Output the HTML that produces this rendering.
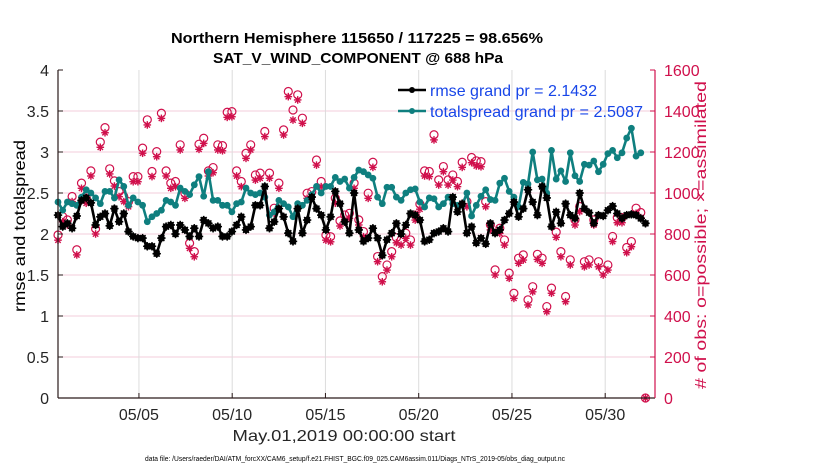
<!DOCTYPE html>
<html><head><meta charset="utf-8"><style>
body{margin:0;background:#fff;}
svg{display:block;font-family:"Liberation Sans",sans-serif;}
</style></head><body>
<svg id="chart" width="830" height="470" viewBox="0 0 830 470">
<text x="357" y="43" text-anchor="middle" font-size="15" font-weight="bold" textLength="372" lengthAdjust="spacingAndGlyphs">Northern Hemisphere 115650 / 117225 = 98.656%</text>
<text x="358" y="63" text-anchor="middle" font-size="15" font-weight="bold" textLength="290" lengthAdjust="spacingAndGlyphs">SAT_V_WIND_COMPONENT @ 688 hPa</text>
<g id="grid"></g>
<g id="obs"></g>
<g id="series"></g>
<g id="axes"></g>
<text x="0" y="0" transform="translate(25,226) rotate(-90)" text-anchor="middle" font-size="16" textLength="172" lengthAdjust="spacingAndGlyphs">rmse and totalspread</text>
<text x="0" y="0" transform="translate(706,235) rotate(-90)" text-anchor="middle" font-size="16" fill="#d0104c" textLength="308" lengthAdjust="spacingAndGlyphs"># of obs: o=possible; ×=assimilated</text>
<text x="344" y="441" text-anchor="middle" font-size="16" fill="#262626" textLength="223" lengthAdjust="spacingAndGlyphs">May.01,2019 00:00:00 start</text>
<text x="355" y="461" text-anchor="middle" font-size="7.5" fill="#000" textLength="420" lengthAdjust="spacingAndGlyphs">data file: /Users/raeder/DAI/ATM_forcXX/CAM6_setup/f.e21.FHIST_BGC.f09_025.CAM6assim.011/Diags_NTrS_2019-05/obs_diag_output.nc</text>
<g>
<line x1="398" y1="90" x2="426" y2="90" stroke="#000" stroke-width="2.5"/>
<circle cx="412" cy="90" r="3" fill="#000"/>
<text x="430" y="96" font-size="16" fill="#1846e8" textLength="167" lengthAdjust="spacingAndGlyphs">rmse grand pr = 2.1432</text>
<line x1="398" y1="111" x2="426" y2="111" stroke="#0f7f7f" stroke-width="2.5"/>
<circle cx="412" cy="111" r="3" fill="#0f7f7f"/>
<text x="430" y="117" font-size="16" fill="#1846e8" textLength="213" lengthAdjust="spacingAndGlyphs">totalspread grand pr = 2.5087</text>
</g>
</svg>
<script>
const xTickLabels=["05/05","05/10","05/15","05/20","05/25","05/30"];
const xTickDays=[4,9,14,19,24,29];
const yLeftTicks=[0,0.5,1,1.5,2,2.5,3,3.5,4];
const yLeftLabels=["0","0.5","1","1.5","2","2.5","3","3.5","4"];
const yRightTicks=[0,200,400,600,800,1000,1200,1400,1600];
const rmse=[2.23,2.09,2.13,2.07,2.22,2.41,2.44,2.38,2.11,2.21,2.25,2.1,2.31,2.15,2.25,2.03,1.97,1.95,1.95,1.85,1.85,1.76,1.95,2.09,2.11,2.0,2.11,2.05,1.97,2.07,1.97,2.17,2.13,2.07,2.09,1.97,1.97,2.03,2.11,2.21,2.05,2.09,2.35,
2.35,2.58,2.07,2.15,2.31,2.21,2.01,1.91,2.31,2.01,2.17,2.45,2.31,2.23,2.05,2.21,2.52,2.37,2.15,2.01,2.5,2.05,1.91,1.95,2.07,1.95,1.74,1.93,2.01,2.13,2.0,2.11,2.25,2.23,2.17,1.91,1.93,2.01,2.03,2.07,2.03,2.45,
2.27,2.37,2.01,2.09,1.89,1.95,1.88,2.13,2.01,2.05,2.17,2.25,2.39,2.21,2.31,2.54,2.39,2.23,2.58,2.44,2.09,2.27,2.13,2.37,2.23,2.19,2.5,2.31,2.26,2.13,2.23,2.22,2.29,2.34,2.25,2.19,2.23,2.24,2.23,2.19,2.13];
const totalspread=[2.39,2.29,2.39,2.37,2.35,2.45,2.54,2.5,2.44,2.37,2.52,2.52,2.44,2.66,2.58,2.35,2.44,2.39,2.35,2.15,2.21,2.25,2.29,2.41,2.39,2.35,2.56,2.52,2.48,2.6,2.7,2.46,2.76,2.41,2.41,2.35,2.35,2.27,2.37,2.39,2.56,2.5,2.48,
2.5,2.45,2.23,2.27,2.41,2.37,2.33,2.21,2.37,2.35,2.41,2.48,2.58,2.5,2.58,2.58,2.69,2.64,2.67,2.56,2.69,2.78,2.76,2.72,2.68,2.45,2.37,2.57,2.57,2.45,2.41,2.5,2.54,2.55,2.39,2.33,2.44,2.43,2.33,2.37,2.45,
2.37,2.35,2.35,2.5,2.22,2.35,2.46,2.54,2.42,2.41,2.62,2.68,2.52,2.45,2.33,2.63,2.61,3.0,2.66,2.67,2.5,3.02,2.67,2.77,2.64,2.99,2.71,2.64,2.85,2.84,2.89,2.76,2.85,2.98,3.02,2.93,2.99,3.17,3.29,2.95,2.99];
const obsAssimilated=[770,860,844,958,698,1023,950,1083,800,1223,1294,1093,1034,982,958,933,1055,1055,1194,1332,1080,1177,1364,1083,1023,1031,1210,974,730,689,1213,1242,1083,1099,1210,1206,1369,1372,1083,1031,1169,1210,1063,
1072,1275,1072,901,1023,1283,1470,1356,1454,1340,974,982,1136,1031,770,762,950,839,868,876,1023,844,787,974,1125,665,567,624,689,757,746,779,746,868,921,1083,1080,1259,1039,1104,
1039,1063,1031,1125,933,1148,1132,1128,933,820,600,803,746,584,486,657,673,454,518,676,657,421,511,784,689,470,649,844,909,640,649,844,640,600,624,763,855,855,709,738,901,880,0];
const obsPossible=[795,885,869,983,723,1048,975,1108,825,1248,1319,1118,1059,1007,983,958,1080,1080,1219,1357,1105,1202,1389,1108,1048,1056,1235,999,755,714,1238,1267,1108,1124,1235,1231,1394,1397,1108,1056,1194,1235,1088,
1097,1300,1097,926,1048,1308,1495,1405,1479,1365,999,1007,1161,1056,795,787,975,864,893,901,1048,869,812,999,1150,690,592,649,714,782,771,804,771,893,946,1108,1105,1284,1064,1129,
1064,1088,1056,1150,958,1173,1157,1153,958,845,625,828,771,609,511,682,698,479,543,701,682,446,536,809,714,495,674,869,934,665,674,869,665,625,649,788,880,880,734,763,926,905,0];

const NS="http://www.w3.org/2000/svg";
const X0=58,X1=655,YT=70,YB=398;
const dayStart=-0.34,dayEnd=31.67,stepDays=0.252;
function xScale(d){return X0+(d-dayStart)/(dayEnd-dayStart)*(X1-X0);}
function yLeft(v){return YB-v/4*(YB-YT);}
function yRight(v){return YB-v/1600*(YB-YT);}
function dayOf(i){return dayStart+i*stepDays;}
function mk(tag,attrs,parent){const e=document.createElementNS(NS,tag);for(const k in attrs)e.setAttribute(k,attrs[k]);parent.appendChild(e);return e;}
const grid=document.getElementById('grid'),axes=document.getElementById('axes'),obs=document.getElementById('obs'),series=document.getElementById('series');

yLeftTicks.forEach((t,i)=>{const y=yLeft(t);
 if(i>0&&i<yLeftTicks.length-1){const g=mk('line',{x1:X0,x2:X1,y1:y,y2:y,stroke:'#f3cddb','stroke-width':1},grid);
 
 }
 const tk=mk('line',{x1:X0,x2:X0+5,y1:y,y2:y,stroke:'#2a1a1a'},axes);
 
 
 const tx=mk('text',{x:X0-9,y:y+6,'text-anchor':'end','font-size':16,fill:'#262626'},axes);tx.textContent=yLeftLabels[i];
 
 
});
yRightTicks.forEach(t=>{const y=yRight(t);
 const tk=mk('line',{x1:X1-5,x2:X1,y1:y,y2:y,stroke:'#d0104c'},axes);
 
 
 const tx=mk('text',{x:X1+9,y:y+6,'font-size':16,fill:'#d0104c'},axes);tx.textContent=String(t);
 
 
});
xTickDays.forEach((d,i)=>{const x=xScale(d);
 const g=mk('line',{x1:x,x2:x,y1:YT,y2:YB,stroke:'#dcdcdc'},grid);
 
 
 const tk=mk('line',{x1:x,x2:x,y1:YB-5,y2:YB,stroke:'#2a1a1a'},axes);
 
 
 const tx=mk('text',{x:x,y:YB+22,'text-anchor':'middle','font-size':16,fill:'#262626'},axes);tx.textContent=xTickLabels[i];
 
 
});
const la=mk('line',{x1:X0,x2:X0,y1:YT,y2:YB,stroke:'#2a1a1a','stroke-width':1.2},axes);


const ba=mk('line',{x1:X0,x2:X1,y1:YB,y2:YB,stroke:'#2a1a1a','stroke-width':1.2},axes);


const ra=mk('line',{x1:X1,x2:X1,y1:YT,y2:YB,stroke:'#d0104c','stroke-width':1.2},axes);



function star(x,y,r,parent,color,w){
 const g=mk('g',{stroke:color,'stroke-width':w},parent);
 for(let a=0;a<4;a++){const t=a*Math.PI/4;mk('line',{x1:x-r*Math.cos(t),y1:y-r*Math.sin(t),x2:x+r*Math.cos(t),y2:y+r*Math.sin(t)},g);}
 return g;}
obsPossible.forEach((v,i)=>{const x=xScale(dayOf(i));
 const c=mk('circle',{cx:x,cy:yRight(v),r:4,fill:'none',stroke:'#d0104c','stroke-width':1.2},obs);
 
 });
obsAssimilated.forEach((v,i)=>{const x=xScale(dayOf(i));
 const s=star(x,yRight(v),3.8,obs,'#d0104c',1.4);
 
 });

function drawSeries(vals,color,name,isStar){
 const pts=vals.map((v,i)=>xScale(dayOf(i)).toFixed(1)+','+yLeft(v).toFixed(1)).join(' ');
 const pl=mk('polyline',{points:pts,fill:'none',stroke:color,'stroke-width':2.6,'stroke-linejoin':'round'},series);
 
 
 vals.forEach((v,i)=>{const x=xScale(dayOf(i)),y=yLeft(v);
  const c=mk('circle',{cx:x,cy:y,r:3.4,fill:color},series);
  
  
  if(isStar){star(x,y,4.2,series,color,1.5);}
 });
}
drawSeries(totalspread,'#0f7f7f','totalspread',false);
drawSeries(rmse,'#000000','rmse',true);
</script>
</body></html>
